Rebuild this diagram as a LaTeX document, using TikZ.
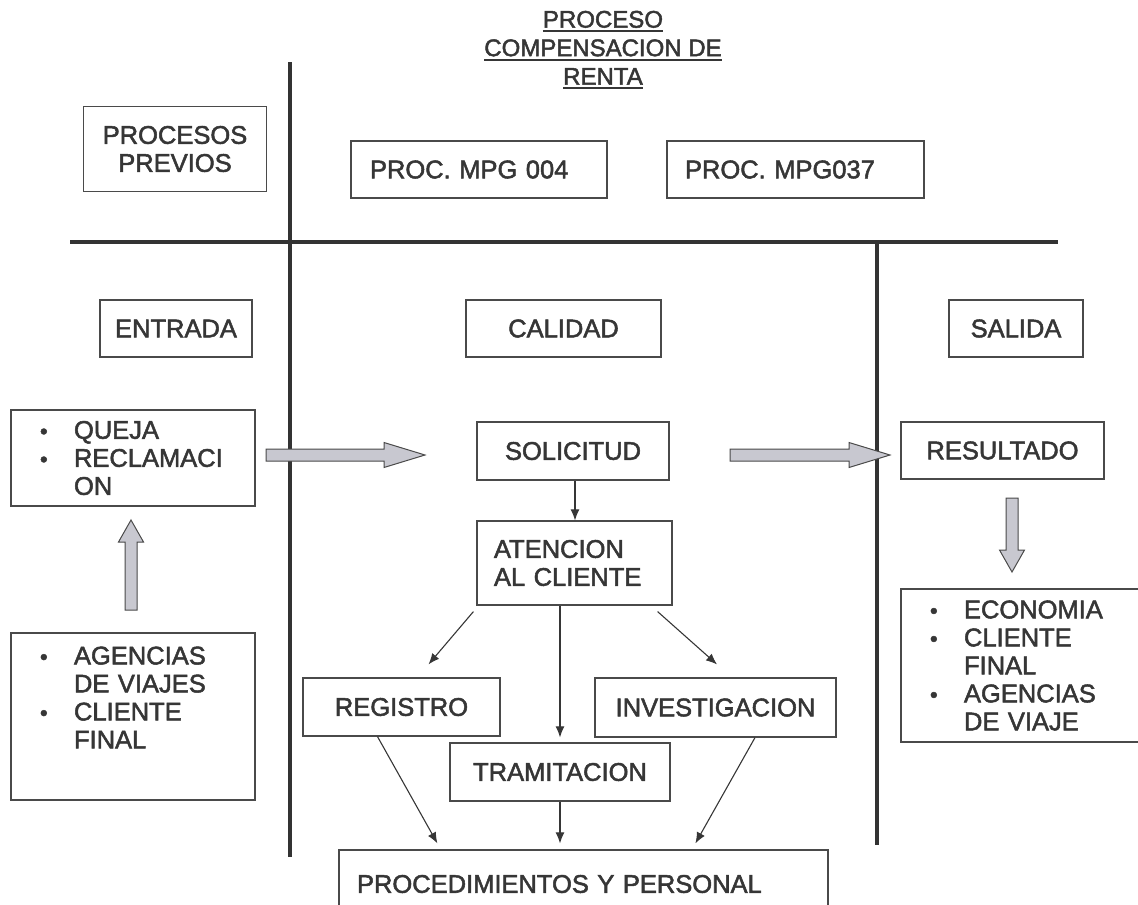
\documentclass[tikz,border=0pt]{standalone}
\usepackage{fontspec}
\setmainfont{Liberation Sans}[FakeBold=2]
\usetikzlibrary{calc,arrows.meta}

\definecolor{ink}{HTML}{363636}
\definecolor{frame}{HTML}{4A4A4A}
\definecolor{rulec}{HTML}{333333}
\definecolor{fatfill}{HTML}{C8C8D0}

% bullet column used in the list boxes
\newcommand\bul{\makebox[34pt][l]{\fontsize{22}{22}\selectfont\textbullet}}
\newcommand\ind{\hspace*{34pt}}
% heavier underline for the heading
\newcommand\ttlul[1]{\setbox0\hbox{#1}\rlap{\rule[-4.5pt]{\wd0}{2pt}}\box0}

\begin{document}
\begin{tikzpicture}[x=1pt,y=-1pt,
  every node/.style={text=ink, font=\fontsize{25.5}{28}\selectfont},
  box/.style={draw=frame, line width=1.2pt, inner sep=0pt},
  divider/.style={draw=rulec, line width=3.6pt},
  arr/.style={draw=ink, line width=1.1pt, -{Latex[length=11pt,width=9pt]}},
  fatarrow/.style={draw=frame, fill=fatfill, line width=1pt},
  % block arrow: #1,#2 shaft corner at the head (distance, angle), #3,#4 head corner
  fat/.style n args={4}{to path={
    ($(\tikztostart)!6pt!90:(\tikztotarget)$)
    -- ($(\tikztotarget)!#1pt!-#2:(\tikztostart)$)
    -- ($(\tikztotarget)!#3pt!-#4:(\tikztostart)$)
    -- (\tikztotarget)
    -- ($(\tikztotarget)!#3pt!#4:(\tikztostart)$)
    -- ($(\tikztotarget)!#1pt!#2:(\tikztostart)$)
    -- ($(\tikztostart)!6pt!-90:(\tikztotarget)$) -- cycle}},
  fatlong/.style={fat={41.44}{8.33}{42.86}{16.96}},
  fatshort/.style={fat={22.80}{15.26}{25.30}{29.60}}
]
\useasboundingbox (0,0) rectangle (1138,905);
\clip (0,0) rectangle (1138,905);

% heading
\node[align=center, font=\fontsize{24}{28.5}\selectfont] (title) at (603,50)
  {\ttlul{PROCESO}\\\ttlul{COMPENSACION DE}\\\ttlul{RENTA}};

% dividing lines
\coordinate (v1t) at (290,62);  \coordinate (v1b) at (290,857);
\coordinate (hl)  at (70,242);  \coordinate (hr)  at (1058,242);
\coordinate (v2t) at (877,242); \coordinate (v2b) at (877,845);
\draw[divider] (v1t) -- (v1b);
\draw[divider] (hl) -- (hr);
\draw[divider] (v2t) -- (v2b);

% top band
\node[box, minimum width=183, minimum height=85, align=center] (prev) at (175,149)
  {PROCESOS\\PREVIOS};
\node[box, minimum width=256, minimum height=57, inner xsep=19pt, text width=218pt, align=left]
  (mpga) at (479,169.5) {PROC. MPG 004};
\node[box, minimum width=257, minimum height=57, inner xsep=18pt, text width=221pt, align=left]
  (mpgb) at (795.5,169.5) {PROC. MPG037};

% column headers
\node[box, minimum width=152, minimum height=57] (entrada) at (176,328.5) {ENTRADA};
\node[box, minimum width=195, minimum height=57] (calidad) at (563.5,328.5) {CALIDAD};
\node[box, minimum width=134, minimum height=57] (salida) at (1016,328.5) {SALIDA};

% input column
\node[box, minimum width=244, minimum height=96, inner xsep=29pt, text width=186pt, align=left]
  (queja) at (133,458) {\bul QUEJA\\\bul RECLAMACI\\\ind ON};
\node[box, minimum width=244, minimum height=167, inner xsep=29pt, text width=186pt, align=left]
  (agen) at (133,716.5) {\bul AGENCIAS\\\ind DE VIAJES\\\bul CLIENTE\\\ind FINAL\\[10pt]\mbox{}};

% quality column
\node[box, minimum width=192, minimum height=58] (sol) at (573,451) {SOLICITUD};
\node[box, minimum width=195, minimum height=84, inner xsep=17pt, text width=161pt, align=left]
  (aten) at (574.5,563) {ATENCION\\AL CLIENTE};
\node[box, minimum width=197, minimum height=58] (reg) at (401.5,707) {REGISTRO};
\node[box, minimum width=241, minimum height=59] (inv) at (715.5,707.5) {INVESTIGACION};
\node[box, minimum width=220, minimum height=58] (tram) at (560,772) {TRAMITACION};
\node[box, minimum width=489, minimum height=68, inner xsep=18pt, text width=453pt, align=left]
  (proc) at (583.5,884) {PROCEDIMIENTOS Y PERSONAL};

% output column
\node[box, minimum width=249, minimum height=153, inner xsep=29pt, text width=191pt, align=left]
  (econ) at (1025.5,665.5)
  {\bul ECONOMIA\\\bul CLIENTE\\\ind FINAL\\\bul AGENCIAS\\\ind DE VIAJE};
\node[box, minimum width=203, minimum height=57] (res) at (1002.5,450.5) {RESULTADO};

% thin connectors
\coordinate (solo) at ([xshift=2pt]sol.south);
\draw[arr] (solo) -- (solo |- aten.north);
\draw[arr] ([shift={(-3pt,-6pt)}]aten.south west) -- ([shift={(27pt,13pt)}]reg.north);
\draw[arr] (aten.south -| tram.north) -- ([yshift=5pt]tram.north);
\draw[arr] ([shift={(-15pt,-6pt)}]aten.south east) -- ([shift={(1.5pt,13pt)}]inv.north);
\draw[arr] ([xshift=-24pt]reg.south) -- ([shift={(99pt,6pt)}]proc.north west);
\draw[arr] (tram.south) -- ([yshift=6pt]tram.south |- proc.north);
\draw[arr] ([xshift=39.5pt]inv.south) -- ([shift={(357pt,6pt)}]proc.north west);

% block arrows
\coordinate (f1s) at (266,455);  \coordinate (f1e) at (425,455);
\coordinate (f2s) at (730,455);  \coordinate (f2e) at (890,455);
\coordinate (f3s) at (131,610);  \coordinate (f3e) at (131,520);
\coordinate (f4s) at (1012,498); \coordinate (f4e) at (1012,572);
\filldraw[fatarrow, fatlong] (f1s) to (f1e);
\filldraw[fatarrow, fatlong] (f2s) to (f2e);
\filldraw[fatarrow, fatshort] (f3s) to (f3e);
\filldraw[fatarrow, fatshort] (f4s) to (f4e);
\end{tikzpicture}
\end{document}
